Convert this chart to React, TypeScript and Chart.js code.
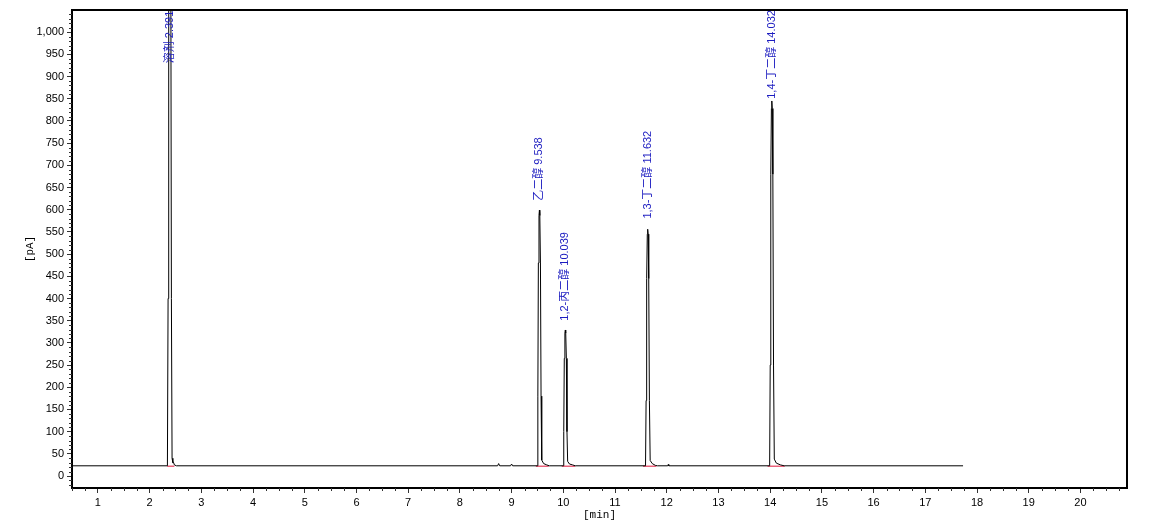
import React, { useEffect, useRef } from "react";
import { Chart, registerables } from "chart.js";

Chart.register(...registerables);

// Chromatogram signal [min] -> [pA]
const signalTimes = [
  0.5,
  2.345, 2.358, 2.37, 2.385, 2.391, 2.398, 2.41, 2.422, 2.435, 2.45, 2.462, 2.48, 2.52,
  8.73, 8.75, 8.77, 8.98, 9.0, 9.02,
  9.498, 9.508, 9.518, 9.53, 9.538, 9.546, 9.558, 9.57, 9.583, 9.62, 9.68, 9.73,
  9.999, 10.009, 10.019, 10.031, 10.039, 10.047, 10.059, 10.071, 10.084, 10.12, 10.18, 10.23,
  11.59, 11.601, 11.612, 11.624, 11.632, 11.640, 11.652, 11.665, 11.68, 11.72, 11.78, 11.82,
  12.02, 12.03, 12.04,
  13.99, 14.001, 14.012, 14.024, 14.032, 14.040, 14.052, 14.065, 14.08, 14.12, 14.2, 14.27,
  17.73,
];
const signalValues = [
  23,
  23, 400, 1200, 1390, 1400, 1390, 1200, 400, 40, 30, 31, 25, 23,
  23, 28, 23, 23, 27, 23,
  23, 180, 480, 587, 599, 587, 480, 180, 36, 28, 25, 23,
  23, 100, 265, 322, 329, 322, 265, 100, 33, 27, 25, 23,
  23, 170, 445, 545, 556, 545, 445, 170, 35, 28, 24, 23,
  23, 26, 23,
  23, 250, 680, 828, 845, 828, 680, 250, 38, 29, 25, 23,
  23,
];

const peakTimes = [2.391, 9.538, 10.039, 11.632, 14.032];
const peakNames = ["溶剂", "乙二醇", "1,2-丙二醇", "1,3-丁二醇", "1,4-丁二醇"];
const peakLabelY = [930, 620, 350, 580, 850];

const integStart = [2.34, 9.47, 9.97, 11.54, 13.95];
const integEnd = [2.48, 9.72, 10.23, 11.8, 14.28];
const integLevel = 22;

const xTicks = [1, 2, 3, 4, 5, 6, 7, 8, 9, 10, 11, 12, 13, 14, 15, 16, 17, 18, 19, 20];
const yTicks = [0, 50, 100, 150, 200, 250, 300, 350, 400, 450, 500, 550, 600, 650, 700, 750, 800, 850, 900, 950, 1000];
const xMin = 0.5;
const xMax = 20.9;
const yMin = -27;
const yMax = 1050;
const xMinorStep = 0.25;
const yMinorStep = 10;

const LABEL_FONT = '11px "Liberation Sans", Arial, "Noto Sans CJK SC", sans-serif';
const TITLE_FONT = '11px "Liberation Mono", "DejaVu Sans Mono", monospace';

const decorPlugin = {
  id: "decor",
  afterDatasetsDraw(chart: any) {
    const { ctx, chartArea, scales } = chart;
    const xs = scales.x;
    const ys = scales.y;
    ctx.save();
    ctx.beginPath();
    ctx.rect(chartArea.left, chartArea.top, chartArea.right - chartArea.left, chartArea.bottom - chartArea.top);
    ctx.clip();
    ctx.fillStyle = "#1c1cc0";
    ctx.font = LABEL_FONT;
    ctx.textAlign = "left";
    ctx.textBaseline = "middle";
    peakTimes.forEach((t, i) => {
      const px = xs.getPixelForValue(t);
      const py = ys.getPixelForValue(peakLabelY[i]);
      ctx.save();
      ctx.translate(px, py);
      ctx.rotate(-Math.PI / 2);
      ctx.fillText(`${peakNames[i]} ${t.toFixed(3)}`, 0, 0);
      ctx.restore();
    });
    ctx.restore();
  },
  afterDraw(chart: any) {
    const { ctx, chartArea, scales } = chart;
    const xs = scales.x;
    const ys = scales.y;
    ctx.save();
    ctx.strokeStyle = "#000";
    ctx.lineWidth = 2;
    ctx.strokeRect(chartArea.left, chartArea.top, chartArea.right - chartArea.left, chartArea.bottom - chartArea.top);
    ctx.lineWidth = 1;
    ctx.strokeStyle = "#333";
    ctx.beginPath();
    for (let v = Math.ceil(yMin / yMinorStep) * yMinorStep; v <= yMax; v += yMinorStep) {
      if (v % 50 === 0) continue;
      const py = Math.round(ys.getPixelForValue(v)) + 0.5;
      ctx.moveTo(chartArea.left - 3, py);
      ctx.lineTo(chartArea.left, py);
    }
    for (let v = xMin; v <= xMax + 1e-9; v += xMinorStep) {
      if (Math.abs(v - Math.round(v)) < 1e-6) continue;
      const px = Math.round(xs.getPixelForValue(v)) + 0.5;
      ctx.moveTo(px, chartArea.bottom);
      ctx.lineTo(px, chartArea.bottom + 3);
    }
    ctx.stroke();
    ctx.fillStyle = "#000";
    ctx.font = TITLE_FONT;
    ctx.textAlign = "center";
    ctx.textBaseline = "middle";
    ctx.fillText("[min]", (chartArea.left + chartArea.right) / 2, 515);
    ctx.save();
    ctx.translate(30, (chartArea.top + chartArea.bottom) / 2);
    ctx.rotate(-Math.PI / 2);
    ctx.fillText("[pA]", 0, 0);
    ctx.restore();
    ctx.restore();
  },
};

export default function App() {
  const ref = useRef<HTMLCanvasElement | null>(null);
  useEffect(() => {
    if (!ref.current) return;
    const signal = signalTimes.map((t, i) => ({ x: t, y: signalValues[i] }));
    const integ: any[] = [];
    integStart.forEach((s, i) => {
      integ.push({ x: s, y: integLevel });
      integ.push({ x: integEnd[i], y: integLevel });
      integ.push({ x: integEnd[i], y: null });
    });
    const chart = new Chart(ref.current, {
      type: "line",
      data: {
        datasets: [
          {
            data: signal,
            borderColor: "#000",
            borderWidth: 1,
            pointRadius: 0,
            tension: 0,
            order: 1,
          },
          {
            data: integ,
            borderColor: "rgba(230,70,100,0.85)",
            borderWidth: 1.5,
            pointRadius: 0,
            spanGaps: false,
            order: 2,
          },
        ],
      },
      options: {
        responsive: false,
        animation: false,
        layout: { padding: { top: 10, right: 23, left: 0, bottom: 0 } },
        plugins: { legend: { display: false }, tooltip: { enabled: false } },
        scales: {
          x: {
            type: "linear",
            min: xMin,
            max: xMax,
            afterBuildTicks: (s: any) => {
              s.ticks = xTicks.map((v) => ({ value: v }));
            },
            afterFit: (s: any) => {
              s.height = 43;
            },
            grid: { drawOnChartArea: false, drawTicks: true, tickLength: 5, color: "#333" },
            border: { display: true, color: "#000", width: 2 },
            ticks: {
              color: "#000",
              font: { family: '"Liberation Sans", Arial, sans-serif', size: 11 },
              padding: 3,
              maxRotation: 0,
              autoSkip: false,
              callback: (v: any) => String(v),
            },
          },
          y: {
            type: "linear",
            min: yMin,
            max: yMax,
            afterBuildTicks: (s: any) => {
              s.ticks = yTicks.map((v) => ({ value: v }));
            },
            afterFit: (s: any) => {
              s.width = 72;
            },
            grid: { drawOnChartArea: false, drawTicks: true, tickLength: 5, color: "#333" },
            border: { display: true, color: "#000", width: 2 },
            ticks: {
              color: "#000",
              font: { family: '"Liberation Sans", Arial, sans-serif', size: 11 },
              padding: 3,
              autoSkip: false,
              callback: (v: any) => Number(v).toLocaleString("en-US"),
            },
          },
        },
      },
      plugins: [decorPlugin],
    } as any);
    return () => chart.destroy();
  }, []);
  return (
    <div style={{ position: "absolute", left: 0, top: 0, width: 1150, height: 531, background: "#fff" }}>
      <canvas ref={ref} width={1150} height={531} style={{ display: "block" }} />
    </div>
  );
}
